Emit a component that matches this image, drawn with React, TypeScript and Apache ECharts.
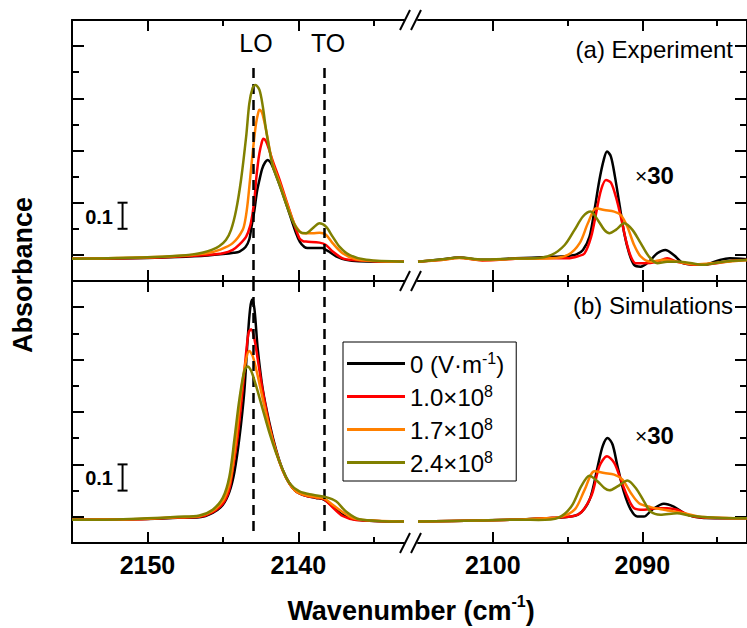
import React, { useEffect, useRef } from "react";
import * as echarts from "echarts";

const FONT = "'Liberation Sans', Arial, Helvetica, sans-serif";

// Legend / series
const fieldNames = ["0 (V·m-1)", "1.0×10^8", "1.7×10^8", "2.4×10^8"];
const legendRich = ["{n|0 (V·m}{s|-1}{n|)}", "{n|1.0×10}{s|8}", "{n|1.7×10}{s|8}", "{n|2.4×10}{s|8}"];
const lineColors = ["#000000", "#ff0000", "#ff8000", "#808000"];

// Axes
const leftRange = [2133, 2155];
const rightRange = [2083, 2105];
const leftMajorTicks = [2150, 2140];
const leftMinorTicks = [2145, 2135];
const rightMajorTicks = [2100, 2090];
const rightMinorTicks = [2095, 2085];
const yRange = [-0.1, 0.9];
const yMajorTicks = [0, 0.2, 0.4, 0.6, 0.8];
const yMinorTicks = [0.1, 0.3, 0.5, 0.7];
const loPosition = 2143;
const toPosition = 2138.3;
const scaleBar = [[2151.65, 0.1], [2151.65, 0.2]];

// (a) Experiment, left segment
const expLeft0 = [[2155,-0.015],[2152,-0.014],[2150,-0.012],[2148,-0.008],[2146,-0.002],[2145,0.003],[2144.3,0.008],[2143.9,0.013],[2143.5,0.03],[2143.25,0.06],[2143.1,0.11],[2142.91,0.172],[2142.75,0.24],[2142.58,0.287],[2142.4,0.33],[2142.2,0.355],[2142.03,0.364],[2141.85,0.355],[2141.7,0.338],[2141.48,0.306],[2141.04,0.236],[2140.6,0.16],[2140.15,0.083],[2139.9,0.05],[2139.6,0.03],[2139.4,0.026],[2138.8,0.026],[2138.4,0.026],[2138.2,0.02],[2137.95,0.012],[2137.5,-0.006],[2136.84,-0.019],[2136,-0.024],[2133,-0.026]];
const expLeft1 = [[2155,-0.015],[2152,-0.013],[2150,-0.011],[2148,-0.006],[2146,0.0],[2145,0.006],[2144.35,0.019],[2143.9,0.04],[2143.46,0.07],[2143.2,0.11],[2143.03,0.16],[2142.9,0.22],[2142.8,0.287],[2142.68,0.35],[2142.58,0.39],[2142.45,0.425],[2142.32,0.445],[2142.14,0.435],[2141.95,0.405],[2141.7,0.36],[2141.26,0.29],[2140.81,0.21],[2140.38,0.135],[2139.93,0.064],[2139.7,0.053],[2139.49,0.051],[2138.6,0.047],[2138.17,0.038],[2137.73,0.013],[2137.07,-0.013],[2136.4,-0.02],[2135,-0.024],[2133,-0.026]];
const expLeft2 = [[2155,-0.015],[2152,-0.012],[2150,-0.009],[2148,-0.004],[2147,0.0],[2146,0.007],[2145.23,0.019],[2144.35,0.045],[2143.69,0.096],[2143.5,0.14],[2143.36,0.198],[2143.2,0.29],[2143.03,0.39],[2142.9,0.46],[2142.8,0.505],[2142.68,0.54],[2142.58,0.556],[2142.45,0.55],[2142.36,0.536],[2142.14,0.479],[2141.92,0.409],[2141.7,0.35],[2141.26,0.28],[2140.81,0.205],[2140.38,0.135],[2140.15,0.108],[2139.72,0.083],[2139.05,0.083],[2138.6,0.085],[2138.17,0.077],[2137.73,0.045],[2137.07,0.006],[2136.2,-0.017],[2135,-0.023],[2133,-0.026]];
const expLeft3 = [[2155,-0.015],[2152,-0.012],[2150,-0.009],[2148,-0.003],[2147,0.002],[2146.3,0.009],[2145.7,0.02],[2145.23,0.034],[2144.8,0.057],[2144.46,0.096],[2144.13,0.17],[2143.8,0.287],[2143.46,0.453],[2143.25,0.58],[2143.03,0.64],[2142.85,0.651],[2142.58,0.632],[2142.36,0.57],[2142.14,0.479],[2141.92,0.405],[2141.7,0.34],[2141.26,0.27],[2140.81,0.195],[2140.38,0.13],[2139.93,0.089],[2139.49,0.083],[2139.05,0.102],[2138.6,0.121],[2138.17,0.108],[2137.73,0.07],[2137.28,0.032],[2136.62,0.0],[2135.5,-0.019],[2133,-0.026]];

// (a) Experiment, right segment
const expRight0 = [[2105,-0.026],[2103.5,-0.018],[2102.25,-0.01],[2100.7,-0.019],[2098.5,-0.013],[2096.3,-0.008],[2095,-0.004],[2094.4,0.002],[2093.97,0.019],[2093.53,0.07],[2093.2,0.172],[2092.87,0.287],[2092.58,0.364],[2092.36,0.396],[2092.1,0.377],[2091.83,0.3],[2091.54,0.198],[2091.21,0.083],[2090.88,0.006],[2090.55,-0.038],[2090.11,-0.045],[2089.56,-0.026],[2089.0,0.006],[2088.46,0.019],[2087.9,0.0],[2087.24,-0.032],[2085.9,-0.038],[2084.8,-0.019],[2084.15,-0.013],[2083,-0.017]];
const expRight1 = [[2105,-0.026],[2103.5,-0.02],[2102.25,-0.011],[2100.7,-0.021],[2098.5,-0.015],[2096.3,-0.012],[2094.97,-0.013],[2094.3,-0.005],[2093.86,0.006],[2093.42,0.07],[2093.09,0.16],[2092.76,0.249],[2092.43,0.287],[2092.1,0.277],[2091.77,0.223],[2091.44,0.147],[2091.1,0.057],[2090.77,-0.006],[2090.44,-0.032],[2089.89,-0.032],[2089.0,-0.026],[2088.34,-0.013],[2087.68,-0.026],[2086.36,-0.038],[2085.03,-0.032],[2084,-0.022],[2083,-0.02]];
const expRight2 = [[2105,-0.026],[2103.5,-0.02],[2102.25,-0.012],[2100.7,-0.02],[2098.5,-0.015],[2096.07,-0.013],[2094.97,0.0],[2094.19,0.045],[2093.64,0.121],[2093.09,0.179],[2092.54,0.172],[2091.88,0.166],[2091.44,0.153],[2091.0,0.108],[2090.55,0.038],[2090.11,-0.006],[2089.45,-0.026],[2088.56,-0.019],[2087.68,-0.026],[2086.4,-0.036],[2085,-0.03],[2083,-0.02]];
const expRight3 = [[2105,-0.026],[2103.5,-0.018],[2102.25,-0.01],[2100.7,-0.018],[2098.5,-0.014],[2097.17,-0.013],[2096.07,0.0],[2095.19,0.038],[2094.53,0.096],[2093.97,0.147],[2093.46,0.166],[2092.98,0.134],[2092.54,0.096],[2092.2,0.083],[2091.77,0.096],[2091.21,0.121],[2090.66,0.096],[2090.11,0.045],[2089.56,-0.006],[2089.0,-0.032],[2088.34,-0.026],[2087.46,-0.026],[2085.9,-0.038],[2084.6,-0.026],[2083,-0.02]];

// (b) Simulations, left segment
const simLeft0 = [[2155,-0.011],[2152,-0.01],[2150,-0.008],[2148,-0.004],[2146.56,-0.002],[2145.68,0.015],[2145.01,0.045],[2144.57,0.095],[2144.24,0.17],[2143.91,0.3],[2143.58,0.48],[2143.36,0.678],[2143.2,0.793],[2143.07,0.829],[2142.91,0.793],[2142.69,0.64],[2142.36,0.487],[2141.92,0.359],[2141.48,0.257],[2141.04,0.18],[2140.6,0.129],[2140.15,0.097],[2139.49,0.08],[2138.83,0.072],[2138.28,0.065],[2137.73,0.04],[2137.07,0.008],[2136.18,-0.011],[2133,-0.018]];
const simLeft1 = [[2155,-0.011],[2152,-0.01],[2150,-0.008],[2148,-0.003],[2146.56,0.0],[2145.68,0.018],[2145.01,0.05],[2144.6,0.1],[2144.35,0.18],[2144.02,0.308],[2143.69,0.487],[2143.46,0.627],[2143.29,0.704],[2143.13,0.716],[2142.91,0.678],[2142.69,0.6],[2142.36,0.48],[2141.92,0.35],[2141.48,0.25],[2141.04,0.177],[2140.6,0.127],[2140.15,0.097],[2139.49,0.08],[2138.83,0.073],[2138.28,0.066],[2137.73,0.036],[2137.07,0.003],[2136.18,-0.012],[2133,-0.018]];
const simLeft2 = [[2155,-0.011],[2152,-0.01],[2150,-0.007],[2148,-0.002],[2146.56,0.002],[2145.68,0.022],[2145.01,0.06],[2144.7,0.1],[2144.46,0.154],[2144.13,0.295],[2143.8,0.474],[2143.46,0.601],[2143.25,0.633],[2143.03,0.614],[2142.69,0.537],[2142.36,0.45],[2141.92,0.34],[2141.48,0.25],[2141.04,0.178],[2140.6,0.128],[2140.15,0.097],[2139.49,0.082],[2138.83,0.075],[2138.28,0.069],[2137.73,0.046],[2137.07,0.018],[2136.4,-0.005],[2135.5,-0.013],[2133,-0.018]];
const simLeft3 = [[2155,-0.011],[2152,-0.01],[2150,-0.006],[2148,0.0],[2146.56,0.005],[2145.68,0.027],[2145.01,0.072],[2144.57,0.154],[2144.24,0.295],[2143.91,0.448],[2143.58,0.557],[2143.36,0.574],[2143.13,0.557],[2142.8,0.5],[2142.36,0.41],[2141.92,0.321],[2141.48,0.244],[2141.04,0.18],[2140.6,0.129],[2139.93,0.097],[2139.05,0.084],[2138.17,0.075],[2137.5,0.059],[2136.84,0.02],[2135.96,-0.009],[2133,-0.018]];

// (b) Simulations, right segment
const simRight0 = [[2105,-0.018],[2101,-0.014],[2098.28,-0.01],[2096.07,-0.005],[2094.3,0.008],[2093.53,0.065],[2092.98,0.193],[2092.65,0.27],[2092.32,0.301],[2091.99,0.276],[2091.66,0.193],[2091.21,0.091],[2090.77,0.027],[2090.33,0.001],[2089.89,0.001],[2089.34,0.027],[2088.56,0.05],[2087.9,0.039],[2087.02,0.008],[2085.9,-0.005],[2083,-0.006]];
const simRight1 = [[2105,-0.018],[2101,-0.014],[2098,-0.01],[2096,-0.004],[2094.3,0.008],[2093.42,0.078],[2092.87,0.193],[2092.36,0.231],[2091.88,0.206],[2091.44,0.142],[2091.0,0.078],[2090.55,0.033],[2089.89,0.027],[2089.0,0.033],[2088.34,0.033],[2087.68,0.027],[2086.58,0.001],[2085,-0.005],[2083,-0.006]];
const simRight2 = [[2105,-0.018],[2101,-0.014],[2098,-0.01],[2096.5,-0.006],[2095.63,-0.003],[2094.53,0.027],[2093.86,0.103],[2093.2,0.174],[2092.54,0.167],[2091.88,0.161],[2091.33,0.142],[2090.77,0.091],[2090.22,0.052],[2089.45,0.037],[2088.56,0.027],[2087.24,0.014],[2085.9,-0.001],[2083,-0.006]];
const simRight3 = [[2105,-0.018],[2101,-0.014],[2098,-0.011],[2096.95,-0.012],[2095.63,-0.004],[2094.75,0.039],[2094.09,0.116],[2093.53,0.157],[2092.98,0.135],[2092.54,0.11],[2092.2,0.101],[2091.66,0.116],[2091.0,0.139],[2090.44,0.11],[2089.89,0.059],[2089.45,0.02],[2088.79,0.008],[2087.68,0.014],[2086.8,0.004],[2085,-0.004],[2083,-0.006]];

const panelData = [
  [[expLeft0, expLeft1, expLeft2, expLeft3], [expRight0, expRight1, expRight2, expRight3]],
  [[simLeft0, simLeft1, simLeft2, simLeft3], [simRight0, simRight1, simRight2, simRight3]],
];

const grids = [
  { left: 72, top: 20, width: 332, height: 261 },
  { left: 418, top: 20, width: 333, height: 261 },
  { left: 72, top: 281, width: 332, height: 262 },
  { left: 418, top: 281, width: 333, height: 262 },
];

function xAxisDef(g: number, position: string, major: boolean, showLabel: boolean) {
  const seg = g % 2;
  const range = seg ? rightRange : leftRange;
  const ticks = major ? (seg ? rightMajorTicks : leftMajorTicks) : (seg ? rightMinorTicks : leftMinorTicks);
  return {
    type: "value", gridIndex: g, position, inverse: true, min: range[0], max: range[1],
    axisLine: { show: major, onZero: false, lineStyle: { color: "#000", width: 2 } },
    axisTick: { show: true, inside: true, length: major ? 11 : 6, customValues: ticks, lineStyle: { color: "#000", width: 2 } },
    axisLabel: {
      show: showLabel, customValues: ticks, fontSize: 25, fontWeight: "bold", color: "#000", fontFamily: FONT, margin: 9,
      formatter: (v: number) => String(Math.round(v)),
    },
    splitLine: { show: false },
  };
}

function yAxisDef(g: number, major: boolean) {
  const seg = g % 2;
  const ticks = major ? yMajorTicks : yMinorTicks;
  return {
    type: "value", gridIndex: g, position: seg ? "right" : "left", min: yRange[0], max: yRange[1],
    axisLine: { show: major, onZero: false, lineStyle: { color: "#000", width: 2 } },
    axisTick: { show: true, inside: true, length: major ? 12 : 7, customValues: ticks, lineStyle: { color: "#000", width: 2 } },
    axisLabel: { show: false },
    splitLine: { show: false },
  };
}

function buildOption() {
  const xAxis: any[] = [];
  const yAxis: any[] = [];
  grids.forEach((_, g) => {
    const showLabel = g >= 2;
    xAxis.push(xAxisDef(g, "bottom", true, showLabel));
    xAxis.push(xAxisDef(g, "bottom", false, false));
    xAxis.push(xAxisDef(g, "top", true, false));
    xAxis.push(xAxisDef(g, "top", false, false));
    yAxis.push(yAxisDef(g, true));
    yAxis.push(yAxisDef(g, false));
  });

  const series: any[] = [];
  grids.forEach((_, g) => {
    const p = Math.floor(g / 2);
    const seg = g % 2;
    const sets = panelData[p][seg];
    sets.forEach((data, i) => {
      const s: any = {
        type: "line", name: fieldNames[i], xAxisIndex: g * 4, yAxisIndex: g * 2, data,
        symbol: "none", smooth: 0.3, silent: true, z: 2 + i,
        lineStyle: { color: lineColors[i], width: 2.5, join: "round" }, itemStyle: { color: lineColors[i] },
      };
      if (seg === 0 && i === 0) {
        const top = p === 0 ? 0.716 : 0.9;
        const bottom = p === 0 ? -0.1 : -0.058;
        s.markLine = {
          silent: true, symbol: "none", label: { show: false }, animation: false,
          lineStyle: { color: "#000", type: [10, 6], width: 2.5 },
          data: [
            [{ coord: [loPosition, top] }, { coord: [loPosition, bottom] }],
            [{ coord: [toPosition, top] }, { coord: [toPosition, bottom] }],
          ],
        };
      }
      series.push(s);
    });
    if (seg === 0) {
      series.push({
        type: "line", name: "scale", xAxisIndex: g * 4, yAxisIndex: g * 2, data: scaleBar,
        symbol: "rect", symbolSize: [10, 2], showSymbol: true, silent: true, z: 10,
        lineStyle: { color: "#000", width: 2 }, itemStyle: { color: "#000" },
      });
    }
  });

  const txt = (text: string, x: number, y: number, fontSize: number, align = "left", fontWeight = "normal") => ({
    type: "text", x, y, silent: true,
    style: { text, fontSize, fontWeight, fontFamily: FONT, fill: "#000", align, verticalAlign: "middle" },
  });

  const slashes: any[] = [];
  [20, 281, 543].forEach((y) => {
    slashes.push({ type: "line", silent: true, shape: { x1: 400, y1: y + 10, x2: 410, y2: y - 10 }, style: { stroke: "#000", lineWidth: 2 } });
    slashes.push({ type: "line", silent: true, shape: { x1: 411, y1: y + 10, x2: 421, y2: y - 10 }, style: { stroke: "#000", lineWidth: 2 } });
  });

  const times30 = (y: number) => ({
    type: "text", x: 635, y, silent: true,
    style: {
      text: "{a|×}{b|30}", verticalAlign: "middle", align: "left",
      rich: {
        a: { fontSize: 21, fontFamily: FONT, fill: "#000", color: "#000" },
        b: { fontSize: 24, fontWeight: "bold", fontFamily: FONT, fill: "#000", color: "#000" },
      },
    },
  });

  const graphic: any[] = [
    ...slashes,
    txt("LO", 256, 43, 25, "center"),
    txt("TO", 328, 43, 25, "center"),
    txt("(a) Experiment", 733, 49, 24, "right"),
    txt("(b) Simulations", 733, 305, 24, "right"),
    txt("0.1", 113, 217, 20, "right", "bold"),
    txt("0.1", 113, 478, 20, "right", "bold"),
    times30(175),
    times30(435),
    {
      type: "text", x: 23, y: 275, rotation: Math.PI / 2, silent: true,
      style: { text: "Absorbance", fontSize: 27, fontWeight: "bold", fontFamily: FONT, fill: "#000", align: "center", verticalAlign: "middle" },
    },
    {
      type: "text", x: 411, y: 608, silent: true,
      style: {
        text: "{b|Wavenumber (cm}{s|-1}{b|)}", align: "center", verticalAlign: "middle",
        rich: {
          b: { fontSize: 27, fontWeight: "bold", fontFamily: FONT, fill: "#000", color: "#000", lineHeight: 29, padding: [6, 0, 0, 0] },
          s: { fontSize: 16, fontWeight: "bold", fontFamily: FONT, fill: "#000", color: "#000", lineHeight: 16, verticalAlign: "top" },
        },
      },
    },
  ];

  return {
    animation: false,
    backgroundColor: "#fff",
    textStyle: { fontFamily: FONT },
    grid: grids.map((g) => ({ ...g, containLabel: false })),
    xAxis,
    yAxis,
    legend: {
      data: fieldNames, orient: "vertical", left: 343, top: 342, selectedMode: false,
      icon: "rect", itemWidth: 58, itemHeight: 3, itemGap: 0, padding: [5, 12, 2, 4],
      borderColor: "#000", borderWidth: 1, backgroundColor: "#fff",
      formatter: (name: string) => legendRich[fieldNames.indexOf(name)],
      textStyle: {
        color: "#000", fontFamily: FONT, fontSize: 24,
        rich: {
          n: { fontSize: 24, fontFamily: FONT, color: "#000", lineHeight: 26, padding: [5, 0, 4, 0] },
          s: { fontSize: 16, fontFamily: FONT, color: "#000", lineHeight: 16, verticalAlign: "top" },
        },
      },
    },
    series,
    graphic,
  };
}

export default function App() {
  const ref = useRef<HTMLDivElement>(null);
  useEffect(() => {
    const chart = echarts.init(ref.current as HTMLDivElement, null, { renderer: "svg" });
    chart.setOption(buildOption() as any);
    return () => chart.dispose();
  }, []);
  return <div ref={ref} style={{ position: "absolute", left: 0, top: 0, width: 747, height: 628, background: "#fff" }} />;
}
